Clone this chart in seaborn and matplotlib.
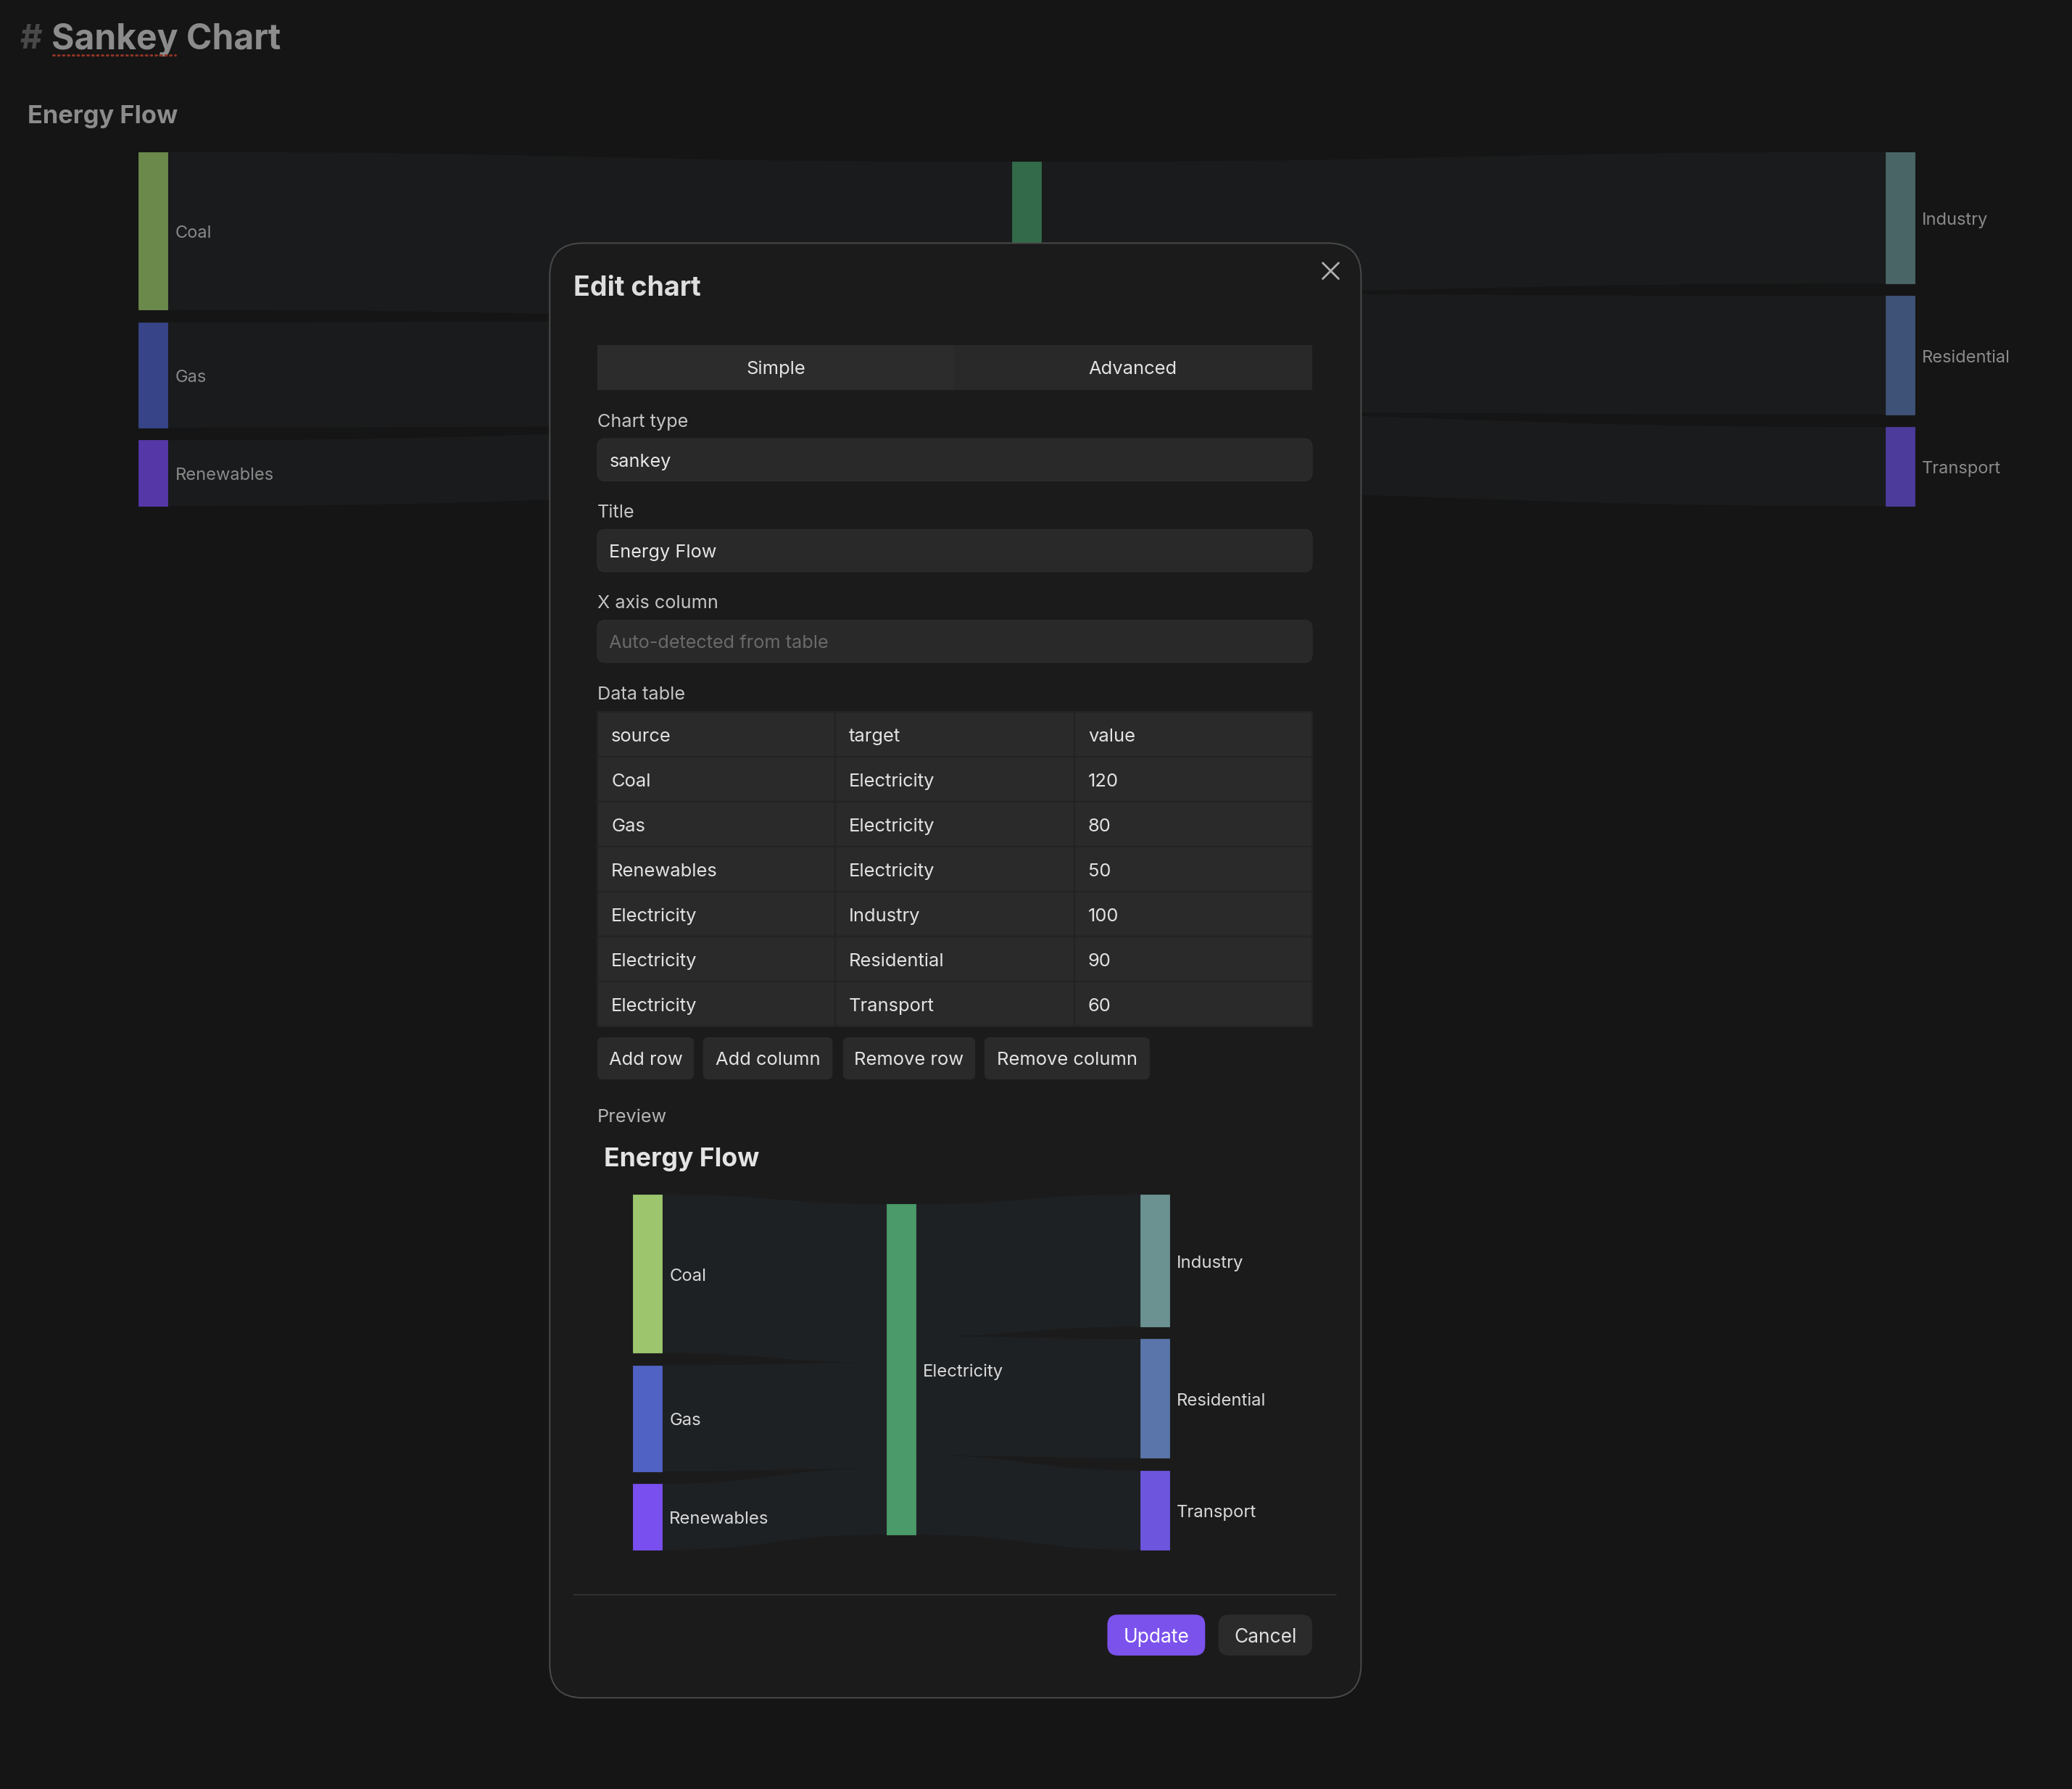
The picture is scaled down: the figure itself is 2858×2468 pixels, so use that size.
import matplotlib
matplotlib.use("Agg")
import matplotlib.pyplot as plt
from matplotlib.patches import FancyBboxPatch, PathPatch, Rectangle
from matplotlib.path import Path
import seaborn as sns
import pandas as pd

# ---------------- data ----------------
sources = ["Coal", "Gas", "Renewables", "Electricity", "Electricity", "Electricity"]
targets = ["Electricity", "Electricity", "Electricity", "Industry", "Residential", "Transport"]
values = [120, 80, 50, 100, 90, 60]
node_names = ["Coal", "Gas", "Renewables", "Electricity", "Industry", "Residential", "Transport"]
node_colors = ["#9cc56e", "#5062c4", "#7a4ff0", "#4a9a6a", "#6b9191", "#5a75aa", "#6d55de"]
chart_title = "Energy Flow"
page_title = "Sankey Chart"
table_columns = ["source", "target", "value"]
tab_labels = ["Simple", "Advanced"]
field_labels = ["Chart type", "Title", "X axis column"]
field_values = ["sankey", "Energy Flow", "Auto-detected from table"]
table_buttons = ["Add row", "Add column", "Remove row", "Remove column"]

df = pd.DataFrame({"source": sources, "target": targets, "value": values})

sns.set_theme(style="dark")
plt.rcParams["font.family"] = ["Inter", "DejaVu Sans"]

W, H = 1568, 1354
DY = 1.6  # vertical text nudge
fig = plt.figure(figsize=(28.58, 24.68), dpi=100)
ax = fig.add_axes([0, 0, 1, 1])
ax.set_xlim(0, W)
ax.set_ylim(H, 0)
ax.axis("off")
fig.patch.set_facecolor("#1f1f1f")


def txt(x, y, s, **kw):
    kw.setdefault("va", "center")
    return ax.text(x, y + DY, s, **kw)


def rbox(x0, y0, x1, y1, r, fc, ec="none", lw=0, z=20):
    p = FancyBboxPatch((x0, y0), x1 - x0, y1 - y0,
                       boxstyle=f"round,pad=0,rounding_size={r}",
                       fc=fc, ec=ec, lw=lw, zorder=z)
    ax.add_patch(p)
    return p


def draw_sankey(x0, x1, y0, y1, nw, pad, link_color, label_color, fs, z):
    depth = {n: 0 for n in node_names}
    changed = True
    while changed:
        changed = False
        for s, t in zip(df.source, df.target):
            if depth[t] < depth[s] + 1:
                depth[t] = depth[s] + 1
                changed = True
    maxd = max(depth.values())
    val = {}
    for n in node_names:
        out_v = df.loc[df.source == n, "value"].sum()
        in_v = df.loc[df.target == n, "value"].sum()
        val[n] = max(out_v, in_v)
    cols = [[n for n in node_names if depth[n] == d] for d in range(maxd + 1)]
    ky = min((y1 - y0 - (len(c) - 1) * pad) / sum(val[n] for n in c) for c in cols)
    pos = {}
    # first place the full columns (stacked from the top)
    slack_cols = []
    for d, c in enumerate(cols):
        used = sum(val[n] for n in c) * ky + (len(c) - 1) * pad
        x = x0 + d * (x1 - x0 - nw) / maxd
        if (y1 - y0) - used > 1e-6:
            slack_cols.append((d, c, x, used))
            continue
        y = y0
        for n in c:
            h = val[n] * ky
            pos[n] = (x, y, y + h)
            y += h + pad
    # columns with slack: centre at value-weighted mean of neighbours
    for d, c, x, used in slack_cols:
        num, den = 0.0, 0.0
        for s, t, v in zip(df.source, df.target, df.value):
            other = t if s in c else (s if t in c else None)
            if other is not None and other in pos:
                num += v * (pos[other][1] + pos[other][2]) / 2
                den += v
        cy = num / den if den else (y0 + y1) / 2
        y = cy - used / 2
        for n in c:
            h = val[n] * ky
            pos[n] = (x, y, y + h)
            y += h + pad
    out_off = {n: pos[n][1] for n in node_names}
    in_off = {n: pos[n][1] for n in node_names}
    for s, t, v in zip(df.source, df.target, df.value):
        w = v * ky
        sx = pos[s][0] + nw
        tx = pos[t][0]
        sy = out_off[s]
        ty = in_off[t]
        out_off[s] += w
        in_off[t] += w
        xm = (sx + tx) / 2
        verts = [(sx, sy), (xm, sy), (xm, ty), (tx, ty),
                 (tx, ty + w), (xm, ty + w), (xm, sy + w), (sx, sy + w), (sx, sy)]
        codes = [Path.MOVETO, Path.CURVE4, Path.CURVE4, Path.CURVE4,
                 Path.LINETO, Path.CURVE4, Path.CURVE4, Path.CURVE4, Path.CLOSEPOLY]
        ax.add_patch(PathPatch(Path(verts, codes), fc=link_color, ec="none", zorder=z))
    for n, col in zip(node_names, node_colors):
        x, ya, yb = pos[n]
        ax.add_patch(Rectangle((x, ya), nw, yb - ya, fc=col, ec=col, lw=0.6, zorder=z + 1))
        txt(x + nw + 5.5, (ya + yb) / 2 + 0.4, n, color=label_color, fontsize=fs,
            ha="left", zorder=z + 2)


# ---------------- background page ----------------
txt(15, 28.5, "#", fontsize=34, fontweight="bold", color="#686868", ha="left", zorder=2)
txt(39, 28.5, page_title, fontsize=34.6, fontweight="bold", color="#c9c9c9", ha="left", zorder=2)
ax.plot([40, 133], [41.5, 41.5], color="#d04a36", lw=2.2, ls=(0, (0.6, 1.6)), dash_capstyle="round", zorder=2)
txt(21, 87, chart_title, fontsize=24.8, fontweight="bold", color="#c9c9c9", ha="left", zorder=2)
draw_sankey(105, 1449, 115, 383, 22, 9.5, "#252729", "#c6c6c6", 17, 3)

# dimming overlay
ax.add_patch(Rectangle((0, 0), W, H, fc="black", alpha=0.3, ec="none", zorder=10))

# ---------------- modal ----------------
rbox(416, 184, 1030, 1285, 25, "#1b1b1b", ec="#4a4a4a", lw=1.4, z=20)
txt(434, 217, "Edit chart", fontsize=27, fontweight="bold", color="#dedede", ha="left", zorder=22)
ax.plot([1001, 1013], [199, 211], color="#b0b0b0", lw=2.0, zorder=22, solid_capstyle="round")
ax.plot([1001, 1013], [211, 199], color="#b0b0b0", lw=2.0, zorder=22, solid_capstyle="round")

# tabs
ax.add_patch(Rectangle((452, 261), 270, 34, fc="#2c2c2c", ec="none", zorder=21))
ax.add_patch(Rectangle((722, 261), 271, 34, fc="#292929", ec="none", zorder=21))
for i, lab in enumerate(tab_labels):
    txt(587 + 270 * i, 278, lab, fontsize=18.4, color="#e2e2e2", ha="center", zorder=22)

# fields
for i, (lab, v) in enumerate(zip(field_labels, field_values)):
    yl = 318 + 68.7 * i
    txt(452, yl, lab, fontsize=18.2, color="#c4c4c4", ha="left", zorder=22)
    rbox(452, yl + 14, 993, yl + 46, 6, "#292929", ec="#2e2e2e", lw=0.8, z=21)
    txt(461, yl + 30, v, fontsize=18.2, color="#6a6a6a" if i == 2 else "#e6e6e6",
        ha="left", zorder=22)

txt(452, 524.5, "Data table", fontsize=18.2, color="#c4c4c4", ha="left", zorder=22)

# table
col_edges = [452, 632, 813, 993]
row_h = 34
t_top = 539
table_rows = [table_columns] + df.astype(str).values.tolist()
for r, row in enumerate(table_rows):
    for c, cell in enumerate(row):
        x0, x1 = col_edges[c], col_edges[c + 1]
        y0 = t_top + r * row_h
        ax.add_patch(Rectangle((x0, y0), x1 - x0, row_h, fc="#2a2a2a", ec="#232323", lw=1.6, zorder=21))
        txt(x0 + 10.5, y0 + row_h / 2, cell, fontsize=18.4, color="#e2e2e2",
            ha="left", zorder=22)

# table buttons
btn_x = [(452, 525), (532, 630), (638, 738), (745, 870)]
for (bx0, bx1), lab in zip(btn_x, table_buttons):
    rbox(bx0, 785, bx1, 817, 4, "#2a2a2a", z=21)
    txt((bx0 + bx1) / 2, 801, lab, fontsize=18.4, color="#e2e2e2", ha="center", zorder=22)

# preview
txt(452, 844, "Preview", fontsize=18.2, color="#b4b4b4", ha="left", zorder=22)
txt(457, 876, chart_title, fontsize=25.6, fontweight="bold", color="#e4e4e4", ha="left", zorder=22)
draw_sankey(479, 885, 904, 1173, 22, 9.5, "#1e2124", "#d8d8d8", 17.2, 23)

# footer
ax.plot([434, 1011], [1207, 1207], color="#333333", lw=1.3, zorder=22)
rbox(838, 1222, 912, 1253, 8, "#7b52ec", z=21)
txt(875, 1237.5, "Update", fontsize=19, color="white", ha="center", zorder=22)
rbox(922, 1222, 993, 1253, 8, "#2b2b2b", z=21)
txt(957.5, 1237.5, "Cancel", fontsize=19, color="#e0e0e0", ha="center", zorder=22)

fig.savefig("out.png", dpi=100, facecolor=fig.get_facecolor())
